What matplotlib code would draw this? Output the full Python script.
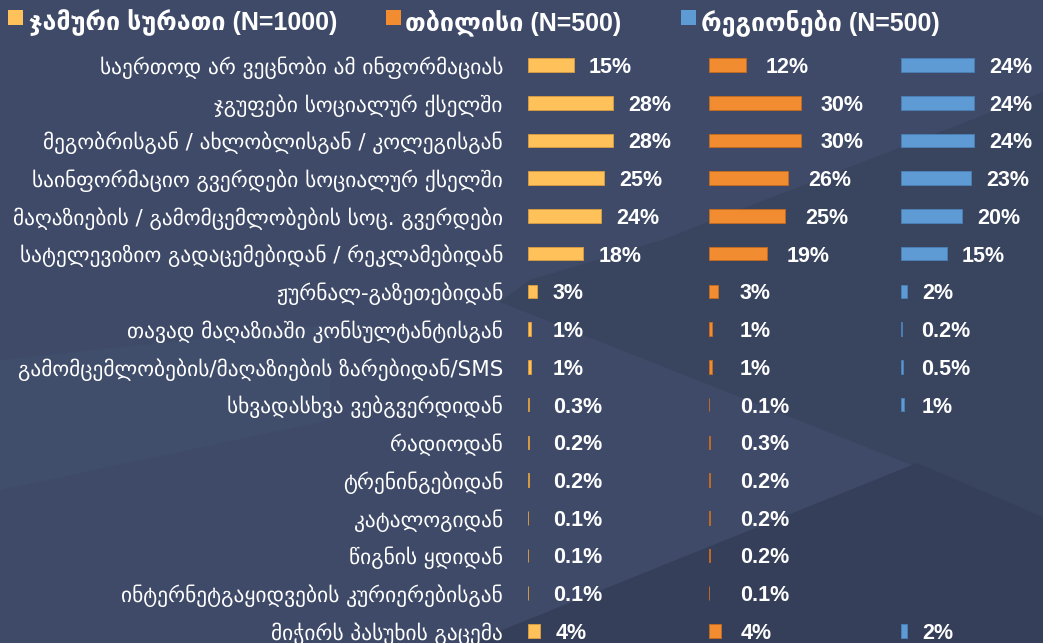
import numpy as np
import matplotlib
matplotlib.use("Agg")
import matplotlib.pyplot as plt
from matplotlib.patches import Rectangle, Polygon

categories = [
    "საერთოდ არ ვეცნობი ამ ინფორმაციას",
    "ჯგუფები სოციალურ ქსელში",
    "მეგობრისგან / ახლობლისგან / კოლეგისგან",
    "საინფორმაციო გვერდები სოციალურ ქსელში",
    "მაღაზიების / გამომცემლობების სოც. გვერდები",
    "სატელევიზიო გადაცემებიდან / რეკლამებიდან",
    "ჟურნალ-გაზეთებიდან",
    "თავად მაღაზიაში კონსულტანტისგან",
    "გამომცემლობების/მაღაზიების ზარებიდან/SMS",
    "სხვადასხვა ვებგვერდიდან",
    "რადიოდან",
    "ტრენინგებიდან",
    "კატალოგიდან",
    "წიგნის ყდიდან",
    "ინტერნეტგაყიდვების კურიერებისგან",
    "მიჭირს პასუხის გაცემა",
]
total = [15, 28, 28, 25, 24, 18, 3, 1, 1, 0.3, 0.2, 0.2, 0.1, 0.1, 0.1, 4]
tbilisi = [12, 30, 30, 26, 25, 19, 3, 1, 1, 0.1, 0.3, 0.2, 0.2, 0.2, 0.1, 4]
regions = [24, 24, 24, 23, 20, 15, 2, 0.2, 0.5, 1,
           np.nan, np.nan, np.nan, np.nan, np.nan, 2]
series_names = ["ჯამური სურათი (N=1000)", "თბილისი (N=500)", "რეგიონები (N=500)"]

colors = ["#FFC15A", "#F28C30", "#5E9BD5"]
edges = ["#d49a45", "#c06a22", "#4a7fb3"]

W, H = 1043, 643
fig = plt.figure(figsize=(W / 100, H / 100), dpi=100)
fig.patch.set_facecolor("#3e4a68")

def fx(px):
    return px / W

def fy(py):
    return 1 - py / H

# background shapes
bg = fig.add_axes([0, 0, 1, 1])
bg.set_xlim(0, W)
bg.set_ylim(H, 0)
bg.axis("off")
bg.set_zorder(-5)
bg.add_patch(Polygon([(0, 0), (W, 0), (W, H), (0, H)], color="#3e4a68", lw=0))
bg.add_patch(Polygon([(0, 360), (330, 325), (330, 420), (0, 490)], color="#404d6b", lw=0))
bg.add_patch(Polygon([(500, 302), (530, 280), (662, 240), (W, 92), (W, 517)],
                     color="#39445f", lw=0))
bg.add_patch(Polygon([(470, H), (917, 463), (W, 517), (W, H)], color="#353f5a", lw=0))

# legend
legend_sq_x = [7.5, 386, 681]
legend_tx_x = [29, 405, 701]
for i in range(3):
    fig.patches.append(Rectangle((fx(legend_sq_x[i]), fy(25)), 15 / W, 15 / H,
                                 transform=fig.transFigure, facecolor=colors[i],
                                 edgecolor="none", figure=fig))
    fig.text(fx(legend_tx_x[i]), fy(20), series_names[i], color="white",
             fontsize=18, fontweight="bold", va="center_baseline", ha="left",
             family=["Liberation Sans", "DejaVu Sans"])

# panels
px_per = 3.05
xmax = 55
row0, rowstep = 65, 37.73
n = len(categories)
top_px = row0 - 0.5 * rowstep
bot_px = row0 + (n - 0.5) * rowstep
panel_x = [528, 709, 901]
label_rule = [(5, 8.1), (6.5, 10.1), (5, 6.6)]
data = [total, tbilisi, regions]
y = np.arange(n)

for k in range(3):
    ax = fig.add_axes([fx(panel_x[k]), fy(bot_px), xmax * px_per / W,
                       (bot_px - top_px) / H])
    ax.set_xlim(0, xmax)
    ax.set_ylim(n - 0.5, -0.5)
    ax.axis("off")
    vals = np.array(data[k], dtype=float)
    ax.barh(y, np.nan_to_num(vals), height=0.36, color=colors[k],
            edgecolor=np.where(np.isnan(vals), "none", edges[k]).tolist(),
            linewidth=0.7)
    gap, mn = label_rule[k]
    for i, v in enumerate(vals):
        if np.isnan(v):
            continue
        ax.text(max(v + gap, mn), i, f"{v:g}%", color="white", fontsize=15.5,
                fontweight="bold", va="center_baseline", ha="left",
                family=["Liberation Sans", "DejaVu Sans"], clip_on=False)

# category labels
for i, c in enumerate(categories):
    fig.text(fx(503), fy(row0 + i * rowstep), c, color="white", fontsize=15.4,
             ha="right", va="center_baseline", family=["DejaVu Sans"])

fig.savefig("out.png", dpi=100, facecolor=fig.get_facecolor())
